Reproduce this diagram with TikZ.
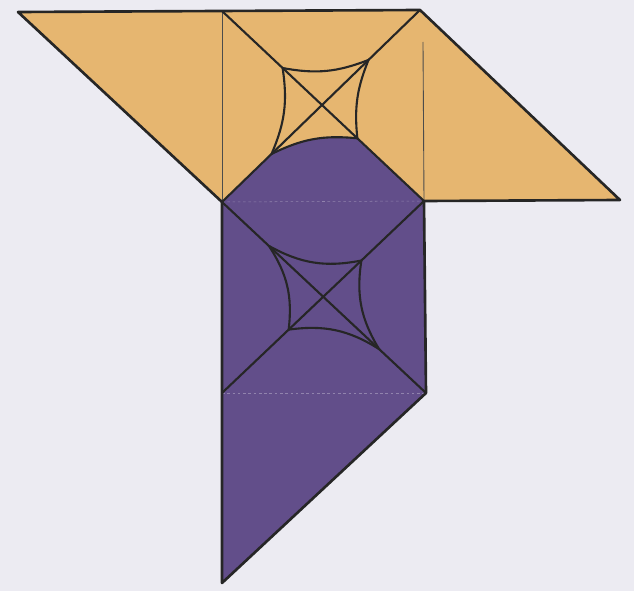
\documentclass[tikz,border=0pt]{standalone}
\usepackage{tikz}
\usetikzlibrary{calc}
\usepackage{xcolor}
\definecolor{paper}{RGB}{236,235,242}
\definecolor{sand}{RGB}{230,182,112}
\definecolor{grape}{RGB}{98,78,138}

\begin{document}
\begin{tikzpicture}[x=0.04cm,y=0.04cm,
  outline/.style={line width=3pt,draw=black!85,line join=round},
  crease/.style={line width=2.4pt,draw=black!85},
  hairline/.style={line width=1pt,draw=black!70},
  hidden/.style={dashed,line width=0.6pt,draw=grape!70!white}
  ]
\fill[paper] (0,0) rectangle (634,-591);
\useasboundingbox (0,0) rectangle (634,-591);
\def\xa{222}
\def\xb{424}
\def\ya{-11}
\def\yb{-202}
\def\yc{-393}
\coordinate (P) at (18,-12);
\coordinate (A) at (\xa,\ya);
\coordinate (B) at (\xb-4,\ya+1);
\coordinate (T) at (620,\yb+2);
\coordinate (H) at (\xb-1,-42);
\coordinate (C) at (\xb,\yb+1);
\coordinate (D) at (\xa,\yb);
\coordinate (E) at (\xb+2,\yc);
\coordinate (F) at (\xa,\yc);
\coordinate (G) at (\xa,-583);
% corners of the two curved squares
\coordinate (a1) at ($(A)!0.30!(C)$);
\coordinate (a2) at ($(B)!0.26!(D)$);
\coordinate (a3) at ($(A)!0.67!(C)$);
\coordinate (a4) at ($(B)!0.75!(D)$);
\coordinate (b1) at ($(D)!0.23!(E)$);
\coordinate (b2) at ($(C)!0.31!(F)$);
\coordinate (b3) at ($(D)!0.77!(E)$);
\coordinate (b4) at ($(C)!0.67!(F)$);
\fill[sand] (P) -- (B) -- (T) -- (C) -- (D) -- cycle;
\fill[grape] (D) -- (a4) to[bend left=16] (a3) -- (C) -- (E) -- (G) -- cycle;
\draw[hairline] (A) -- (D);
\draw[hairline] (H) -- (C);
\draw[hidden] (D) -- (C);
\draw[hidden] (F) -- (E);
\draw[crease] (A) -- (C);
\draw[crease] (B) -- (D);
\draw[crease] (D) -- (E);
\draw[crease] (C) -- (F);
\draw[crease] (a1) to[bend right=16] (a2) to[bend right=14] (a3)
  to[bend right=16] (a4) to[bend right=16] (a1);
\draw[crease] (b1) to[bend right=20] (b2) to[bend right=20] (b3)
  to[bend right=20] (b4) to[bend right=20] (b1);
\draw[outline] (D) -- (P) -- (B) -- (T) -- (C);
\draw[outline] (D) -- (G) -- (E) -- (C);
\end{tikzpicture}
\end{document}
